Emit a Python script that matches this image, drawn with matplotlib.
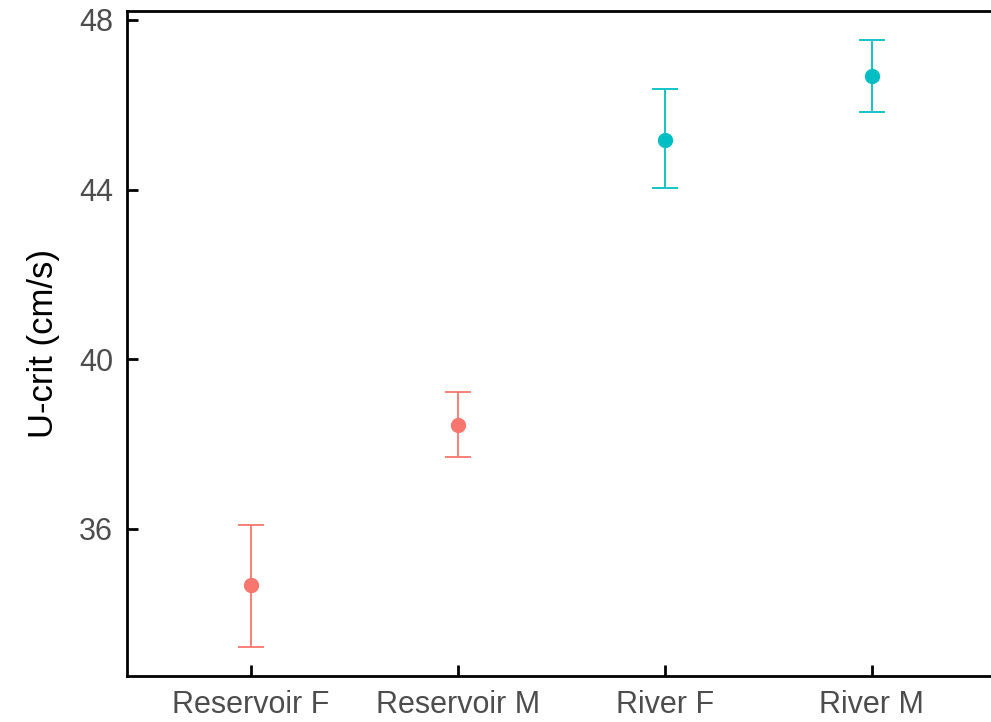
import matplotlib.pyplot as plt

# grupos e valores médios de U-crit com erro padrão
grupos = ['Reservoir F', 'Reservoir M', 'River F', 'River M']
media = [34.68, 38.46, 45.18, 46.68]
erro_inf = [33.22, 37.70, 44.04, 45.84]
erro_sup = [36.08, 39.22, 46.36, 47.52]
cores = ['#F8766D', '#F8766D', '#00BFC4', '#00BFC4']

plt.rcParams['font.family'] = ['Liberation Sans', 'DejaVu Sans']

fig = plt.figure(figsize=(9.91, 7.22), dpi=100)
ax = fig.add_axes([127 / 991, 46 / 722, 869 / 991, 665 / 722])

x = list(range(1, len(grupos) + 1))
for xi, m, lo, hi, c in zip(x, media, erro_inf, erro_sup, cores):
    ax.errorbar(xi, m, yerr=[[m - lo], [hi - m]], fmt='o', color=c,
                ms=10, elinewidth=1.3, capsize=9.5, capthick=1.3)

ax.set_xlim(0.4, 4.6)
ax.set_ylim(32.53, 48.21)
ax.set_xticks(x)
ax.set_xticklabels(grupos)
ax.set_yticks([36, 40, 44, 48])

ax.spines['right'].set_visible(False)
for s in ['left', 'bottom', 'top']:
    ax.spines[s].set_linewidth(2)

ax.tick_params(direction='in', length=8, width=2, labelsize=22,
               labelcolor='#4d4d4d', pad=10)
ax.set_ylabel('U-crit (cm/s)', fontsize=25, labelpad=14)

fig.savefig('out.png', dpi=100)
